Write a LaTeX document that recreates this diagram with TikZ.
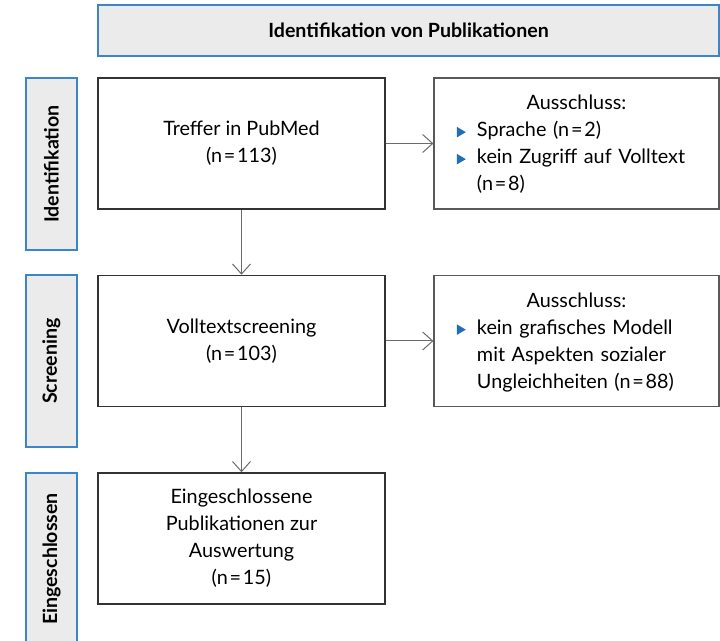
\documentclass[tikz,border=0pt]{standalone}
\usepackage{fontspec}
\setmainfont{Lato}
\usetikzlibrary{arrows.meta}
\definecolor{rahmenblau}{HTML}{3A86C8}
\definecolor{kastengrau}{HTML}{EBEBEB}
\definecolor{pfeilgrau}{HTML}{6B6B6B}
\definecolor{punktblau}{HTML}{1F6FB8}
\newcommand{\punkt}{\tikz[baseline=0pt]\fill[punktblau] (0pt,-0.2pt) -- (0pt,5pt) -- (4.4pt,2.4pt) -- cycle;}
\newcommand{\eintrag}[1]{\par\noindent\makebox[10pt][l]{\punkt}\begin{tabular}[t]{@{}l@{}}#1\end{tabular}\par}
\newcommand{\gl}{\kern0.9pt=\kern0.9pt}

\begin{document}
\begin{tikzpicture}[x=0.5pt,y=-0.5pt,
    schrift/.style={font=\fontsize{9.9}{13.5}\selectfont},
    kopf/.style={draw=rahmenblau,fill=kastengrau,line width=0.75pt,minimum width=310.5pt,minimum height=25.5pt,inner sep=0pt,font=\fontsize{9.8}{13.5}\selectfont\bfseries},
    phase/.style={draw=rahmenblau,fill=kastengrau,line width=0.75pt,rotate=90,minimum width=86pt,minimum height=25.5pt,inner sep=0pt,font=\fontsize{9.8}{13.5}\selectfont\bfseries},
    hauptbox/.style={schrift,draw=black!80,line width=0.75pt,minimum width=143.5pt,minimum height=65.5pt,inner sep=0pt,align=center},
    ausbox/.style={schrift,draw=black!65,line width=0.6pt,minimum width=142.5pt,minimum height=65.5pt,inner sep=0pt,text width=119.5pt},
    pfeil/.style={draw=pfeilgrau,line width=0.5pt,-{Straight Barb[length=5pt,width=9pt]}}]
  \useasboundingbox (0,0) rectangle (720,641);
  \node[kopf] (kopf) at (408.5,30.5) {Identifikation von Publikationen};
  % Phasen links
  \node[phase] (identifikation) at (51.5,164) {Identifikation};
  \node[phase] (screening) at (51.5,361) {Screening};
  \node[phase] (eingeschlossen) at (51.5,559) {Eingeschlossen};
  % Hauptkaesten
  \node[hauptbox] (treffer) at (241.5,143.5) {Treffer in PubMed\\(n\gl113)};
  \node[hauptbox] (volltext) at (241.5,341) {Volltextscreening\\(n\gl103)};
  \node[hauptbox] (eingeschl) at (241.5,538.5) {Eingeschlossene\\Publikationen zur\\Auswertung\\(n\gl15)};
  % Ausschluesse
  \node[ausbox] (aus1) at (576.5,143.5) {\raggedright{\centering\rule{0pt}{11pt}Ausschluss:\par}
    \eintrag{Sprache (n\gl2)}
    \eintrag{kein Zugriff auf Volltext\\(n\gl8)}};
  \node[ausbox] (aus2) at (576.5,341) {\raggedright{\centering\rule{0pt}{11pt}Ausschluss:\par}
    \eintrag{kein grafisches Modell\\mit Aspekten sozialer\\Ungleichheiten (n\gl88)}};
  \draw[pfeil] (treffer) -- (volltext);
  \draw[pfeil] (volltext) -- (eingeschl);
  \draw[pfeil] (treffer) -- (aus1);
  \draw[pfeil] (volltext) -- (aus2);
\end{tikzpicture}
\end{document}
